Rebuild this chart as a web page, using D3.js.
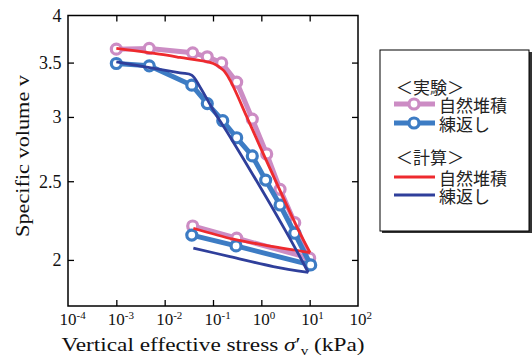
<!DOCTYPE html>
<html><head><meta charset="utf-8">
<script src="https://cdn.jsdelivr.net/npm/d3@7"></script>
<style>body{margin:0;background:#fff} svg{display:block}</style>
</head><body><svg id="c" width="532" height="358"></svg>
<script>
// ---- data ----
const xTicks = [1e-4,1e-3,1e-2,1e-1,1e0,1e1,1e2];
const xTickExp = ["-4","-3","-2","-1","0","1","2"];
const yTicks = [2,2.5,3,3.5,4];
const yTickLabels = ["2","2.5","3","3.5","4"];

const expNaturalStress = [0.001,0.0048,0.038,0.076,0.151,0.309,0.65,1.29,2.44,4.91,10,0.309,0.038];
const expNaturalV      = [3.636,3.643,3.598,3.558,3.497,3.312,2.982,2.701,2.443,2.223,2.010,2.127,2.202];
const expRemoldStress  = [0.001,0.0048,0.0364,0.0762,0.159,0.309,0.65,1.23,2.44,4.91,10.5,0.30,0.0364];
const expRemoldV       = [3.491,3.468,3.283,3.116,2.968,2.828,2.686,2.508,2.337,2.157,1.972,2.081,2.146];
const calcNaturalStress = [0.001,0.011,0.0208,0.1014,0.163,0.225,0.499,0.94,5.82,10.2,1.10,0.263,0.0392];
const calcNaturalV      = [3.643,3.574,3.551,3.491,3.426,3.330,3.002,2.758,2.178,2.042,2.087,2.121,2.188];
const calcRemoldStress  = [0.001,0.0208,0.0362,0.0538,0.1014,0.225,3.09,9.37,1.77,0.225,0.0392];
const calcRemoldV       = [3.507,3.400,3.378,3.267,3.058,2.836,2.178,1.930,1.963,2.019,2.068];

const legendGroups = ["＜実験＞","＜計算＞"];
const legendNames = ["自然堆積","練返し"];

// ---- layout ----
const svg = d3.select("#c");
const L = 68, R = 358, T = 15.5, B = 306;
const x = d3.scaleLog().domain([1e-4,1e2]).range([L,R]);
const y = d3.scaleLog().domain([1.755,4]).range([B,T]);

const cPink = "#cc8cc4", cBlue = "#3d7cc4", cRed = "#ee2a2e", cNavy = "#2f3f9b";

// frame
svg.append("rect").attr("x",L).attr("y",T).attr("width",R-L).attr("height",B-T)
  .attr("fill","none").attr("stroke","#000").attr("stroke-width",1.5);

// axes (inward ticks)
const innerX = xTicks.slice(1,-1);
const innerY = yTicks.filter(v=>v<4);
svg.append("g").attr("transform",`translate(0,${B})`)
  .call(d3.axisTop(x).tickValues(innerX).tickSize(6).tickFormat(""))
  .call(g=>g.select(".domain").remove());
svg.append("g").attr("transform",`translate(0,${T})`)
  .call(d3.axisBottom(x).tickValues(innerX).tickSize(6).tickFormat(""))
  .call(g=>g.select(".domain").remove());
svg.append("g").attr("transform",`translate(${L},0)`)
  .call(d3.axisRight(y).tickValues(innerY).tickSize(6).tickFormat(""))
  .call(g=>g.select(".domain").remove());
svg.append("g").attr("transform",`translate(${R},0)`)
  .call(d3.axisLeft(y).tickValues(innerY).tickSize(6).tickFormat(""))
  .call(g=>g.select(".domain").remove());
svg.selectAll(".tick line").attr("stroke","#000").attr("stroke-width",1.3);

// x tick labels
const font = "Liberation Serif, Times New Roman, serif";
xTicks.forEach((t,i)=>{
  svg.append("text").attr("x",x(t)).attr("y",325)
    .attr("text-anchor","middle").attr("font-family",font).attr("font-size",17).attr("fill","#111")
    .text("10");
  svg.append("text").attr("x",x(t)+8.5).attr("y",318.5)
    .attr("font-family",font).attr("font-size",11).attr("fill","#111")
    .text(xTickExp[i]);
});
// y tick labels
yTicks.forEach((t,i)=>{
  svg.append("text").attr("x",61.5).attr("y",y(t)).attr("dy","0.35em")
    .attr("text-anchor","end").attr("font-family",font).attr("font-size",18).attr("fill","#111")
    .text(yTickLabels[i]);
});
// axis titles
svg.append("text").attr("transform","translate(28.5,237) rotate(-90)")
  .attr("font-family",font).attr("font-size",18.5).attr("fill","#111")
  .attr("textLength",162).attr("lengthAdjust","spacingAndGlyphs")
  .text("Specific volume v");
const xt = svg.append("text").attr("x",61.5).attr("y",350.5)
  .attr("font-family",font).attr("font-size",18.5).attr("fill","#111")
  .attr("textLength",303).attr("lengthAdjust","spacingAndGlyphs");
xt.append("tspan").text("Vertical effective stress  ");
xt.append("tspan").attr("font-style","italic").text("σ");
xt.append("tspan").text("′");
xt.append("tspan").attr("font-size",12).attr("dy",4).text("v");
xt.append("tspan").attr("dy",-4).text(" (kPa)");

// ---- series ----
const zip = (a,b)=>a.map((s,i)=>[s,b[i]]);
const line = d3.line().x(d=>x(d[0])).y(d=>y(d[1]));
function splitAtPeak(pts){
  let k = d3.maxIndex(pts,d=>d[0]);
  return [pts.slice(0,k+1), pts.slice(k)];
}
const smooth = d3.line().x(d=>x(d[0])).y(d=>y(d[1])).curve(d3.curveCatmullRom.alpha(0.5));

function expSeries(s,v,color){
  const pts = zip(s,v);
  svg.append("path").attr("d",line(pts)).attr("fill","none").attr("stroke",color)
    .attr("stroke-width",5).attr("stroke-linejoin","round");
  svg.append("g").selectAll("circle").data(pts).join("circle")
    .attr("cx",d=>x(d[0])).attr("cy",d=>y(d[1])).attr("r",5)
    .attr("fill","#fff").attr("stroke",color).attr("stroke-width",3.2);
}
function calcSeries(s,v,color){
  const parts = splitAtPeak(zip(s,v));
  parts.forEach(p=>svg.append("path").attr("d",smooth(p)).attr("fill","none")
    .attr("stroke",color).attr("stroke-width",2.8).attr("stroke-linejoin","round"));
}
expSeries(expNaturalStress,expNaturalV,cPink);
expSeries(expRemoldStress,expRemoldV,cBlue);
calcSeries(calcNaturalStress,calcNaturalV,cRed);
calcSeries(calcRemoldStress,calcRemoldV,cNavy);

// ---- legend ----
const lg = svg.append("g");
lg.append("rect").attr("x",382).attr("y",52).attr("width",150).attr("height",181).attr("fill","#333");
lg.append("rect").attr("x",380).attr("y",50).attr("width",149).attr("height",181)
  .attr("fill","#fff").attr("stroke","#000").attr("stroke-width",1);
const jf = "Noto Sans CJK JP, Noto Sans CJK SC, sans-serif";
const items = [
  {g:0, y:88},
  {name:0, y:104, color:cPink, exp:true},
  {name:1, y:123, color:cBlue, exp:true},
  {g:1, y:158},
  {name:0, y:177, color:cRed, exp:false},
  {name:1, y:195, color:cNavy, exp:false}
];
items.forEach(it=>{
  if(it.g!==undefined){
    lg.append("text").attr("x",396).attr("y",it.y).attr("dy","0.36em")
      .attr("font-family",jf).attr("font-size",17).attr("fill","#222").text(legendGroups[it.g]);
  } else {
    lg.append("line").attr("x1",394).attr("x2",435).attr("y1",it.y).attr("y2",it.y)
      .attr("stroke",it.color).attr("stroke-width",it.exp?5:2.8);
    if(it.exp) lg.append("circle").attr("cx",414).attr("cy",it.y).attr("r",5)
      .attr("fill","#fff").attr("stroke",it.color).attr("stroke-width",3.2);
    lg.append("text").attr("x",439).attr("y",it.y+1.5).attr("dy","0.36em")
      .attr("font-family",jf).attr("font-size",17).attr("fill","#222").text(legendNames[it.name]);
  }
});
</script></body></html>
